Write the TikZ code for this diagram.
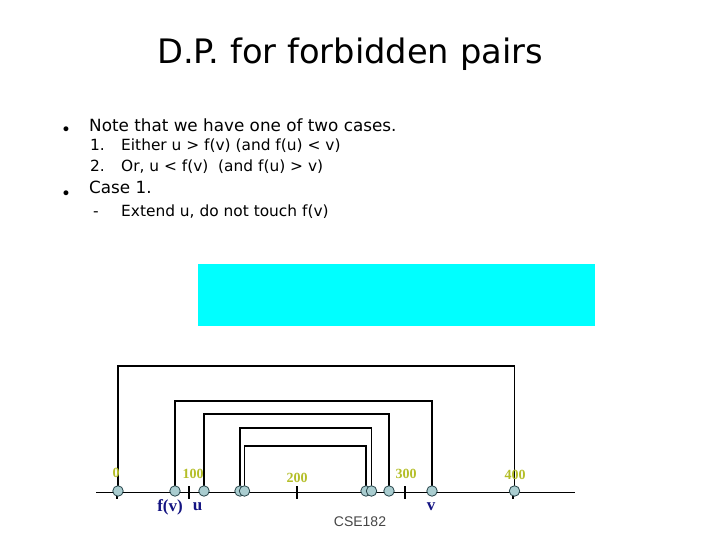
\documentclass[tikz,border=0pt]{standalone}
\usepackage{fontspec}
\setmainfont{DejaVu Sans}
\newfontfamily\serifbf{Liberation Serif}
\newfontfamily\labelfont{Liberation Sans}
\definecolor{olive}{RGB}{180,190,40}
\definecolor{navyblue}{RGB}{20,20,130}
\definecolor{dotfill}{RGB}{170,205,208}
\definecolor{dotline}{RGB}{40,70,75}
\definecolor{boxcyan}{RGB}{0,255,255}
\begin{document}
\begin{tikzpicture}[x=1pt,y=-1pt,
	dot/.style={circle,draw=dotline,fill=dotfill,line width=0.8pt,minimum size=10.5pt,inner sep=0},
	ticklbl/.style={text=olive,font=\serifbf\bfseries\fontsize{14}{14}\selectfont,inner sep=0},
	varlbl/.style={text=navyblue,font=\serifbf\bfseries\fontsize{17}{17}\selectfont,inner sep=0},
	body/.style={anchor=base west,inner sep=0,font=\fontsize{16.8}{17}\selectfont},
	sub/.style={anchor=base west,inner sep=0,font=\fontsize{15.4}{16}\selectfont}]
\useasboundingbox (0,0) rectangle (720,540);
% title and text
\node[anchor=base,inner sep=0,font=\fontsize{33.7}{34}\selectfont] (title) at (350,64) {D.P. for forbidden pairs};
\node[body] (b1) at (61,136) {\textbullet};
\node[body] (note) at (89,132) {Note that we have one of two cases.};
\node[sub] (n1) at (90,151) {1.};
\node[sub] (e1) at (121,151) {Either u > f(v) (and f(u) < v)};
\node[sub] (n2) at (90,172) {2.};
\node[sub] (e2) at (121,172) {Or, u < f(v)\ \ (and f(u) > v)};
\node[body] (b2) at (61,200) {\textbullet};
\node[body] (case) at (89,194) {Case 1.};
\node[sub] (dash) at (93,216) {-};
\node[sub] (ext) at (121,216) {Extend u, do not touch f(v)};
\fill[boxcyan] (198,264) rectangle (595,326);
% axis
\coordinate (axL) at (96,492.5);
\coordinate (axR) at (575,492.5);
\draw[line width=1.2pt] (axL) -- (axR);
\foreach \x in {117,189,297,405,513}
	\draw[line width=1.2pt] (\x,486) -- (\x,499);
% points
\foreach \n/\x in {c0/118,fv/175,u/204,a1/240,a2/244.5,b1/366,b2/371.5,w/389,v/432,c400/514.5}
	\coordinate (\n) at (\x,491);
% brackets
\foreach \l/\r/\h in {c0/c400/366,fv/v/401,u/w/414,a1/b2/428,a2/b1/446}
	\draw[line width=1.2pt] (\l) -- (\l |- 0,\h) -| (\r);
\foreach \n in {c0,fv,u,a1,a2,b1,b2,w,v,c400}
	\node[dot] (d\n) at (\n) {};
% labels
\node[ticklbl] (l0) at (116,473) {0};
\node[ticklbl] (l100) at (193,474) {100};
\node[ticklbl] (l200) at (297,478) {200};
\node[ticklbl] (l300) at (406,474) {300};
\node[ticklbl] (l400) at (515,475) {400};
\node[varlbl] (lfv) at (170,507) {f(v)};
\node[varlbl] (lu) at (197.5,507) {u};
\node[varlbl] (lv) at (431,507) {v};
\node[text={rgb,255:red,70;green,70;blue,70},font=\labelfont\fontsize{14}{14}\selectfont,inner sep=0] (cse) at (360,522) {CSE182};
\end{tikzpicture}
\end{document}
